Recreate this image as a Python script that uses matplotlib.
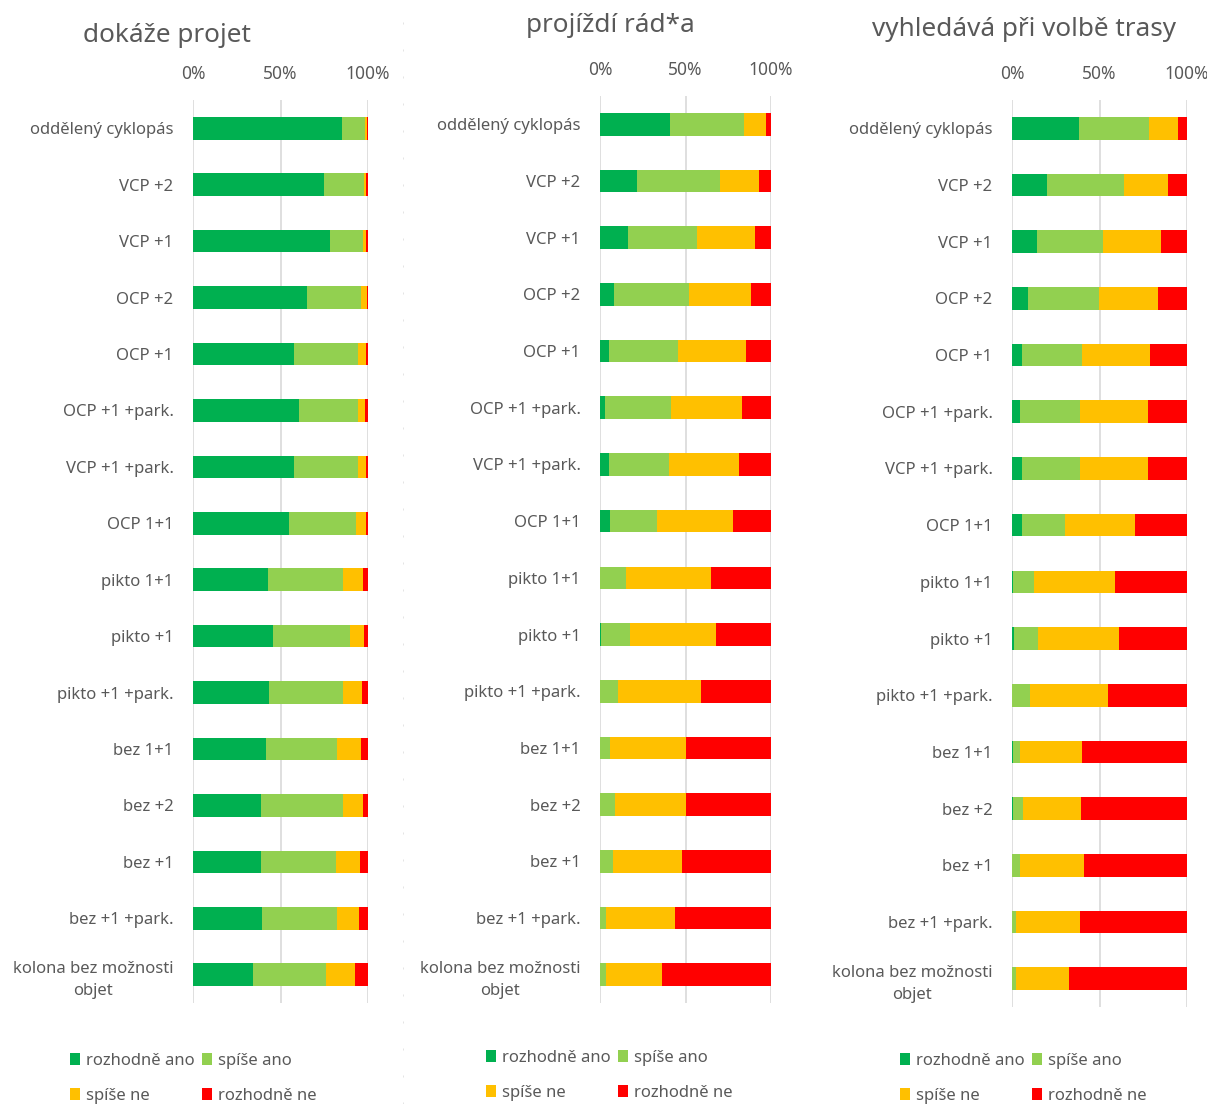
import numpy as np
import matplotlib as mpl
mpl.use('Agg')
import matplotlib.pyplot as plt
from matplotlib.patches import Patch
from matplotlib.lines import Line2D

plt.rcParams['font.family'] = ['Noto Sans', 'DejaVu Sans']

# survey categories, top to bottom
categories = ['oddělený cyklopás', 'VCP +2', 'VCP +1', 'OCP +2', 'OCP +1',
              'OCP +1 +park.', 'VCP +1 +park.', 'OCP 1+1', 'pikto 1+1',
              'pikto +1', 'pikto +1 +park.', 'bez 1+1', 'bez +2', 'bez +1',
              'bez +1 +park.', 'kolona bez možnosti\nobjet']
answers = ['rozhodně ano', 'spíše ano', 'spíše ne', 'rozhodně ne']
colors = ['#00B050', '#92D050', '#FFC000', '#FF0000']

# "dokáže projet" (%)
projet_ra = [85, 75, 78, 65, 58, 60.5, 58, 55, 43, 45.5, 43.5, 41.5, 39, 39, 39.5, 34.5]
projet_sa = [13.5, 23, 19, 31, 36.5, 34, 36.5, 38, 43, 44, 42.5, 41, 47, 42.5, 43, 41.5]
projet_sn = [0.8, 0.8, 2, 3.4, 4.4, 4, 4.6, 5.7, 11.3, 8.4, 10.6, 13.3, 11.3, 14, 12.5, 16.7]
projet_rn = [0.7, 1.2, 1, 0.6, 1.1, 1.5, 0.9, 1.3, 2.7, 2.1, 3.4, 4.2, 2.7, 4.5, 5, 7.3]

# "projíždí rád*a" (%)
rad_ra = [41, 21.5, 16.5, 8, 5, 3, 5.5, 6, 0, 0.8, 0, 0, 0, 0, 0, 0]
rad_sa = [43.5, 48.5, 40.5, 44, 40.5, 38.5, 35, 27.5, 15, 16.5, 10.5, 6, 9, 7.5, 3.5, 3.5]
rad_sn = [12.8, 23, 33.5, 36.5, 40, 41.5, 40.5, 44.5, 50, 50.5, 48.5, 44, 41, 40.5, 40.5, 32.5]
rad_rn = [2.7, 7, 9.5, 11.5, 14.5, 17, 19, 22, 35, 32.2, 41, 50, 50, 52, 56, 64]

# "vyhledává při volbě trasy" (%)
trasa_ra = [38, 20, 14.5, 9, 5.5, 4.5, 5.5, 5.5, 0.8, 1.3, 0, 0.6, 0.8, 0, 0, 0]
trasa_sa = [40.5, 44, 37.5, 40.5, 34.5, 34.5, 33.5, 25, 12, 13.5, 10, 4, 5.5, 4.6, 2.5, 2]
trasa_sn = [16.5, 25, 33, 34, 39, 38.5, 38.5, 40, 46, 46.2, 45, 35.4, 33.3, 36.7, 36.5, 30.5]
trasa_rn = [5, 11, 15, 16.5, 21, 22.5, 22.5, 29.5, 41.2, 39, 45, 60, 60.4, 58.7, 61, 67.5]

W, H = 1207, 1104
fig = plt.figure(figsize=(W / 100, H / 100), dpi=100)
txt = '#595959'

# pixel boxes (left, top, right, bottom), title pos, legend pos
panels = [
    ('dokáže projet', [projet_ra, projet_sa, projet_sn, projet_rn],
     (193, 100, 368, 1003), (167, 36), (70, 1053)),
    ('projíždí rád*a', [rad_ra, rad_sa, rad_sn, rad_rn],
     (600, 96, 771, 1003), (610, 26), (486, 1050)),
    ('vyhledává při volbě trasy', [trasa_ra, trasa_sa, trasa_sn, trasa_rn],
     (1012, 100, 1187, 1007), (1024, 29), (900, 1053)),
]

# faint dotted border left over from the first chart's frame
fig.add_artist(Line2D([403 / W, 403 / W], [0, 1], transform=fig.transFigure,
                      color='#E4E4E4', lw=0.72, linestyle=(0, (2, 25))))

y = np.arange(len(categories))
for title, series, (x0, y0, x1, y1), (tx, ty), (lx, ly) in panels:
    ax = fig.add_axes([x0 / W, 1 - y1 / H, (x1 - x0) / W, (y1 - y0) / H])
    left = np.zeros(len(categories))
    for vals, c in zip(series, colors):
        v = np.array(vals) / 100.0
        ax.barh(y, v, left=left, height=0.4, color=c, linewidth=0)
        left += v
    ax.set_xlim(0, 1)
    ax.set_ylim(len(categories) - 0.5, -0.5)
    ax.set_xticks([0, 0.5, 1])
    ax.set_xticklabels(['0%', '50%', '100%'])
    ax.xaxis.tick_top()
    ax.set_yticks(y)
    ax.set_yticklabels(categories, multialignment='center', linespacing=1.5)
    ax.tick_params(axis='x', length=0, pad=12, labelsize=12.5, labelcolor=txt)
    ax.tick_params(axis='y', length=0, pad=14, labelsize=12, labelcolor=txt)
    ax.grid(axis='x', color='#D9D9D9', linewidth=1.2)
    ax.set_axisbelow(True)
    for s in ax.spines.values():
        s.set_visible(False)

    fig.text(tx / W, 1 - ty / H, title, ha='center', va='center',
             fontsize=18.8, color=txt)

    # legend laid out row-wise: ano pair on top, ne pair below
    order = [0, 2, 1, 3]
    handles = [Patch(facecolor=colors[i], edgecolor='none') for i in order]
    labels = [answers[i] for i in order]
    leg = ax.legend(handles, labels, loc='upper left', ncol=2,
                    bbox_to_anchor=(lx / W, 1 - ly / H),
                    bbox_transform=fig.transFigure, frameon=False,
                    fontsize=12, handlelength=0.6, handleheight=0.75,
                    handletextpad=0.35, columnspacing=0.45,
                    labelspacing=1.15, borderaxespad=0, borderpad=0)
    for t in leg.get_texts():
        t.set_color(txt)

fig.savefig('out.png', dpi=100, facecolor='white')
